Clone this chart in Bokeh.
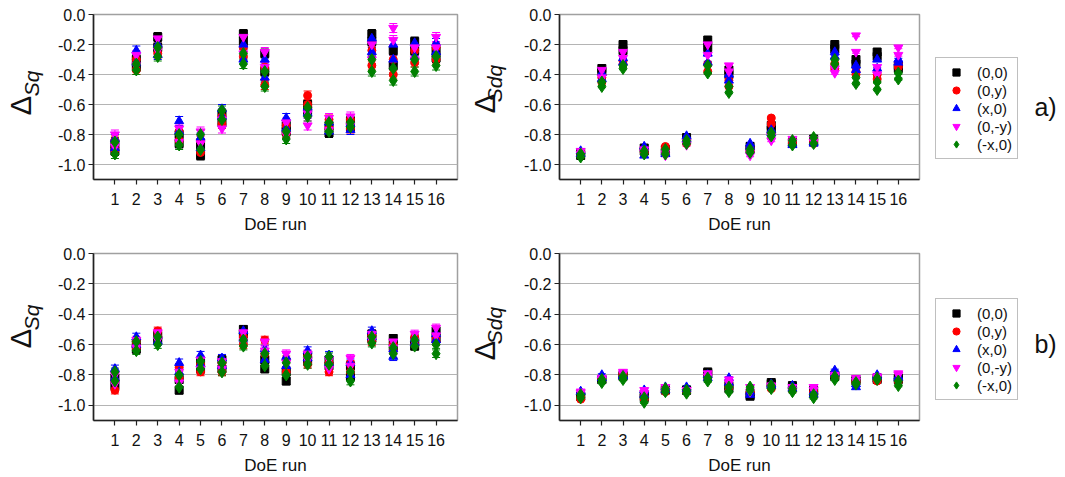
import math
from bokeh.plotting import figure
from bokeh.models import (ColumnDataSource, Range1d, FixedTicker, NumeralTickFormatter,
                          Whisker, TeeHead, Legend, LegendItem, Label)
from bokeh.layouts import column, row
from bokeh.embed import file_html
from bokeh.resources import INLINE

runs = list(range(1, 17))
series_labels = ["(0,0)", "(0,y)", "(x,0)", "(0,-y)", "(-x,0)"]
series_colors = ["#000000", "#ff0000", "#0000ff", "#ff00ff", "#008000"]
series_markers = ["square", "circle", "triangle", "inverted_triangle", "diamond"]
y_ticks = [0.0, -0.2, -0.4, -0.6, -0.8, -1.0]
x_label = "DoE run"
panel_tags = ["a)", "b)"]

# ---- a) Delta Sq : two measured values per run and series ----
sq_a_00 = [(-0.86, -0.91), (-0.30, -0.35), (-0.15, -0.22), (-0.80, -0.86), (-0.87, -0.94), (-0.66, -0.72), (-0.13, -0.18), (-0.26, -0.38),
           (-0.74, -0.78), (-0.60, -0.64), (-0.74, -0.79), (-0.71, -0.75), (-0.13, -0.18), (-0.24, -0.34), (-0.18, -0.24), (-0.24, -0.29)]
sq_a_0y = [(-0.84, -0.90), (-0.30, -0.37), (-0.22, -0.26), (-0.78, -0.84), (-0.84, -0.92), (-0.68, -0.73), (-0.22, -0.28), (-0.35, -0.47),
           (-0.74, -0.79), (-0.54, -0.60), (-0.70, -0.76), (-0.70, -0.76), (-0.24, -0.34), (-0.30, -0.40), (-0.24, -0.32), (-0.22, -0.30)]
sq_a_x0 = [(-0.83, -0.89), (-0.24, -0.32), (-0.20, -0.27), (-0.71, -0.78), (-0.82, -0.89), (-0.63, -0.68), (-0.20, -0.30), (-0.30, -0.42),
           (-0.69, -0.76), (-0.62, -0.66), (-0.72, -0.78), (-0.73, -0.77), (-0.16, -0.25), (-0.20, -0.30), (-0.19, -0.28), (-0.19, -0.25)]
sq_a_0my = [(-0.80, -0.88), (-0.27, -0.34), (-0.16, -0.24), (-0.76, -0.85), (-0.78, -0.86), (-0.70, -0.76), (-0.15, -0.26), (-0.25, -0.35),
            (-0.72, -0.80), (-0.66, -0.74), (-0.69, -0.77), (-0.68, -0.74), (-0.20, -0.30), (-0.09, -0.17), (-0.22, -0.30), (-0.15, -0.22)]
sq_a_mx0 = [(-0.85, -0.93), (-0.33, -0.37), (-0.22, -0.28), (-0.80, -0.87), (-0.80, -0.90), (-0.64, -0.70), (-0.26, -0.33), (-0.38, -0.48),
            (-0.78, -0.83), (-0.62, -0.68), (-0.72, -0.78), (-0.72, -0.75), (-0.30, -0.38), (-0.36, -0.44), (-0.30, -0.38), (-0.28, -0.34)]
err_sq_a = [0.03, 0.03, 0.03, 0.03, 0.03, 0.03, 0.03, 0.03, 0.03, 0.03, 0.03, 0.03, 0.03, 0.03, 0.03, 0.03]

# ---- a) Delta Sdq ----
sdq_a_00 = [(-0.92, -0.94), (-0.36, -0.38), (-0.20, -0.24), (-0.89, -0.91), (-0.90, -0.92), (-0.82, -0.84), (-0.17, -0.22), (-0.37, -0.40),
            (-0.88, -0.90), (-0.74, -0.77), (-0.85, -0.86), (-0.83, -0.85), (-0.20, -0.23), (-0.30, -0.33), (-0.25, -0.28), (-0.34, -0.36)]
sdq_a_0y = [(-0.92, -0.94), (-0.42, -0.45), (-0.31, -0.33), (-0.90, -0.92), (-0.88, -0.90), (-0.84, -0.86), (-0.33, -0.38), (-0.44, -0.48),
            (-0.89, -0.91), (-0.69, -0.73), (-0.84, -0.86), (-0.84, -0.86), (-0.33, -0.36), (-0.38, -0.40), (-0.40, -0.43), (-0.33, -0.35)]
sdq_a_x0 = [(-0.91, -0.93), (-0.39, -0.43), (-0.29, -0.32), (-0.88, -0.94), (-0.92, -0.93), (-0.81, -0.83), (-0.26, -0.32), (-0.40, -0.44),
            (-0.86, -0.88), (-0.77, -0.79), (-0.86, -0.87), (-0.85, -0.86), (-0.25, -0.28), (-0.34, -0.37), (-0.30, -0.36), (-0.30, -0.32)]
sdq_a_0my = [(-0.91, -0.93), (-0.37, -0.42), (-0.25, -0.29), (-0.90, -0.92), (-0.92, -0.94), (-0.85, -0.87), (-0.20, -0.27), (-0.34, -0.38),
             (-0.92, -0.94), (-0.81, -0.84), (-0.83, -0.85), (-0.83, -0.85), (-0.36, -0.39), (-0.14, -0.25), (-0.35, -0.40), (-0.22, -0.27)]
sdq_a_mx0 = [(-0.93, -0.95), (-0.45, -0.48), (-0.34, -0.36), (-0.91, -0.93), (-0.90, -0.93), (-0.84, -0.86), (-0.34, -0.39), (-0.48, -0.52),
             (-0.90, -0.92), (-0.79, -0.81), (-0.84, -0.87), (-0.82, -0.86), (-0.30, -0.33), (-0.42, -0.46), (-0.45, -0.50), (-0.39, -0.43)]
err_sdq_a = [0.008, 0.008, 0.008, 0.008, 0.008, 0.008, 0.008, 0.008, 0.008, 0.008, 0.008, 0.008, 0.008, 0.008, 0.008, 0.008]

# ---- b) Delta Sq ----
sq_b_00 = [(-0.82, -0.87), (-0.59, -0.63), (-0.54, -0.57), (-0.83, -0.90), (-0.72, -0.76), (-0.70, -0.76), (-0.50, -0.53), (-0.70, -0.76),
           (-0.78, -0.84), (-0.67, -0.71), (-0.70, -0.74), (-0.74, -0.81), (-0.53, -0.56), (-0.56, -0.61), (-0.58, -0.61), (-0.51, -0.56)]
sq_b_0y = [(-0.84, -0.90), (-0.58, -0.62), (-0.51, -0.55), (-0.75, -0.82), (-0.73, -0.78), (-0.72, -0.78), (-0.55, -0.60), (-0.57, -0.66),
           (-0.70, -0.78), (-0.68, -0.73), (-0.72, -0.78), (-0.73, -0.78), (-0.54, -0.58), (-0.60, -0.64), (-0.55, -0.60), (-0.55, -0.58)]
sq_b_x0 = [(-0.76, -0.82), (-0.55, -0.60), (-0.54, -0.58), (-0.72, -0.78), (-0.67, -0.73), (-0.69, -0.74), (-0.51, -0.56), (-0.63, -0.70),
           (-0.68, -0.74), (-0.64, -0.69), (-0.67, -0.72), (-0.72, -0.80), (-0.51, -0.55), (-0.63, -0.68), (-0.56, -0.59), (-0.53, -0.57)]
sq_b_0my = [(-0.80, -0.86), (-0.57, -0.62), (-0.52, -0.57), (-0.78, -0.85), (-0.70, -0.76), (-0.71, -0.76), (-0.52, -0.58), (-0.58, -0.64),
            (-0.66, -0.72), (-0.66, -0.70), (-0.70, -0.76), (-0.69, -0.74), (-0.53, -0.57), (-0.58, -0.62), (-0.53, -0.58), (-0.49, -0.54)]
sq_b_mx0 = [(-0.78, -0.84), (-0.58, -0.64), (-0.55, -0.60), (-0.80, -0.88), (-0.71, -0.76), (-0.72, -0.78), (-0.57, -0.61), (-0.66, -0.74),
            (-0.72, -0.80), (-0.68, -0.73), (-0.68, -0.73), (-0.78, -0.84), (-0.55, -0.59), (-0.62, -0.66), (-0.57, -0.61), (-0.60, -0.66)]
err_sq_b = [0.025, 0.025, 0.025, 0.025, 0.025, 0.025, 0.025, 0.025, 0.025, 0.025, 0.025, 0.025, 0.025, 0.025, 0.025, 0.025]

# ---- b) Delta Sdq ----
sdq_b_00 = [(-0.94, -0.94), (-0.83, -0.83), (-0.80, -0.81), (-0.93, -0.95), (-0.89, -0.90), (-0.90, -0.90), (-0.78, -0.79), (-0.87, -0.89),
            (-0.93, -0.94), (-0.85, -0.86), (-0.87, -0.88), (-0.90, -0.92), (-0.80, -0.81), (-0.83, -0.84), (-0.82, -0.83), (-0.82, -0.83)]
sdq_b_0y = [(-0.95, -0.96), (-0.82, -0.82), (-0.79, -0.80), (-0.94, -0.96), (-0.89, -0.91), (-0.90, -0.91), (-0.81, -0.82), (-0.86, -0.88),
            (-0.91, -0.92), (-0.87, -0.89), (-0.89, -0.90), (-0.91, -0.92), (-0.80, -0.81), (-0.84, -0.85), (-0.83, -0.84), (-0.83, -0.84)]
sdq_b_x0 = [(-0.91, -0.91), (-0.80, -0.82), (-0.80, -0.81), (-0.90, -0.93), (-0.88, -0.90), (-0.88, -0.89), (-0.80, -0.82), (-0.82, -0.85),
            (-0.91, -0.93), (-0.86, -0.87), (-0.87, -0.89), (-0.91, -0.93), (-0.77, -0.79), (-0.86, -0.88), (-0.80, -0.81), (-0.81, -0.82)]
sdq_b_0my = [(-0.91, -0.92), (-0.82, -0.83), (-0.78, -0.79), (-0.90, -0.92), (-0.88, -0.90), (-0.90, -0.90), (-0.79, -0.81), (-0.83, -0.85),
             (-0.88, -0.91), (-0.87, -0.88), (-0.88, -0.90), (-0.88, -0.90), (-0.80, -0.81), (-0.82, -0.84), (-0.81, -0.82), (-0.79, -0.80)]
sdq_b_mx0 = [(-0.93, -0.95), (-0.83, -0.85), (-0.81, -0.83), (-0.95, -0.98), (-0.89, -0.91), (-0.90, -0.92), (-0.82, -0.84), (-0.88, -0.91),
             (-0.88, -0.90), (-0.87, -0.89), (-0.89, -0.91), (-0.93, -0.95), (-0.81, -0.83), (-0.85, -0.86), (-0.82, -0.83), (-0.84, -0.87)]
err_sdq_b = [0.008, 0.008, 0.008, 0.008, 0.008, 0.008, 0.008, 0.008, 0.008, 0.008, 0.008, 0.008, 0.008, 0.008, 0.008, 0.008]

FONT = "Liberation Sans"
TXT = "#111111"
marker_sizes = [8, 8, 9, 9, 12]


def blank_fig(width, height):
    f = figure(width=width, height=height, x_range=Range1d(0, 1), y_range=Range1d(0, 1),
               x_axis_type=None, y_axis_type=None, output_backend="svg", toolbar_location=None,
               min_border=0)
    f.outline_line_color = None
    f.xgrid.visible = False
    f.ygrid.visible = False
    f.background_fill_color = "white"
    f.border_fill_color = "white"
    return f


def ylabel_fig(width, height, sub, dx, dy, sx, sy):
    # frame of this helper figure is aligned with the neighbouring panel's frame
    f = blank_fig(width, height)
    f.add_layout(Label(x=dx, y=dy, x_units="screen", y_units="screen", text="Δ",
                       angle=math.pi / 2, text_align="center", text_baseline="alphabetic",
                       text_font=FONT, text_font_size="29px", text_color=TXT))
    f.add_layout(Label(x=sx, y=sy, x_units="screen", y_units="screen", text=sub,
                       angle=math.pi / 2, text_align="center", text_baseline="alphabetic",
                       text_font=FONT, text_font_size="21px", text_font_style="italic",
                       text_color=TXT))
    return f


def legend_fig(width, height, sources, tag, ty):
    # the series sources are reused; their (negative) values lie outside this
    # helper figure's 0..1 range, so only the legend glyphs are shown
    f = blank_fig(width, height)
    items = []
    for src, lab, col, mk, ms in zip(sources, series_labels, series_colors, series_markers, marker_sizes):
        rr = f.scatter("x", "y", source=src, marker=mk, size=ms, color=col)
        items.append(LegendItem(label=lab, renderers=[rr]))
    leg = Legend(items=items, location=(6, 20), orientation="vertical")
    leg.border_line_color = "#808080"
    leg.border_line_width = 1
    leg.background_fill_color = "white"
    leg.background_fill_alpha = 1.0
    leg.label_text_font = FONT
    leg.label_text_font_size = "15px"
    leg.label_text_color = TXT
    leg.glyph_width = 30
    leg.glyph_height = 18
    leg.label_height = 18
    leg.label_standoff = 6
    leg.spacing = 0
    leg.padding = 5
    leg.margin = 0
    f.add_layout(leg)
    f.add_layout(Label(x=116, y=ty, x_units="screen", y_units="screen", text=tag,
                       text_align="center", text_baseline="middle",
                       text_font=FONT, text_font_size="25px", text_color=TXT))
    return f


def make_panel(series, err, width, height, left, right, top, bottom):
    p = figure(width=width, height=height, x_range=Range1d(0, 17), y_range=Range1d(-1.1, 0.0),
               output_backend="svg", toolbar_location=None,
               min_border_left=left, min_border_right=right,
               min_border_top=top, min_border_bottom=bottom)
    p.background_fill_color = "white"
    p.border_fill_color = "white"
    p.outline_line_color = "#a0a0a0"
    p.outline_line_width = 1.5
    p.xgrid.visible = False
    p.ygrid.grid_line_color = "#b4b4b4"
    p.ygrid.grid_line_width = 1.2

    p.xaxis.ticker = FixedTicker(ticks=runs)
    p.yaxis.ticker = FixedTicker(ticks=y_ticks)
    p.yaxis.formatter = NumeralTickFormatter(format="0.0")
    for ax in (p.xaxis[0], p.yaxis[0]):
        ax.axis_line_color = "#222222"
        ax.axis_line_width = 1.6
        ax.major_tick_line_color = "#222222"
        ax.major_tick_line_width = 1.2
        ax.major_tick_in = 0
        ax.major_tick_out = 5
        ax.minor_tick_in = 0
        ax.minor_tick_out = 0
        ax.major_label_text_font = FONT
        ax.major_label_text_font_size = "16px"
        ax.major_label_text_color = TXT
    p.yaxis.major_label_standoff = 3
    p.xaxis.major_label_standoff = 8
    p.xaxis.axis_label = x_label
    p.xaxis.axis_label_text_font = FONT
    p.xaxis.axis_label_text_font_size = "17px"
    p.xaxis.axis_label_text_font_style = "normal"
    p.xaxis.axis_label_text_color = TXT
    p.xaxis.axis_label_standoff = 7

    sources = []
    for vals, col, mk, ms in zip(series, series_colors, series_markers, marker_sizes):
        xs, ys, up, lo = [], [], [], []
        for r, pair, e in zip(runs, vals, err):
            for v in pair:
                xs.append(r)
                ys.append(v)
                up.append(v + e)
                lo.append(v - e)
        src = ColumnDataSource(dict(x=xs, y=ys, upper=up, lower=lo))
        sources.append(src)
        w = Whisker(source=src, base="x", upper="upper", lower="lower",
                    line_color=col, line_width=1,
                    upper_head=TeeHead(size=8, line_color=col, line_width=1),
                    lower_head=TeeHead(size=8, line_color=col, line_width=1))
        p.add_layout(w)
        p.scatter("x", "y", source=src, marker=mk, size=ms, color=col)
    return p, sources


H1, H2 = 236, 241
# top row
l1 = ylabel_fig(50, H1, "Sq", 20, 74, 31, 96)
p1, _ = make_panel([sq_a_00, sq_a_0y, sq_a_x0, sq_a_0my, sq_a_mx0], err_sq_a,
                   417, H1, 43, 10, 14, 54)
l2 = ylabel_fig(53, H1, "Sdq", 17, 76, 27, 96)
p2, s2 = make_panel([sdq_a_00, sdq_a_0y, sdq_a_x0, sdq_a_0my, sdq_a_mx0], err_sdq_a,
                    409, H1, 37, 10, 14, 54)
g1 = legend_fig(136, H1, s2, panel_tags[0], 73)
# bottom row
l3 = ylabel_fig(50, H2, "Sq", 20, 82, 31, 103)
p3, _ = make_panel([sq_b_00, sq_b_0y, sq_b_x0, sq_b_0my, sq_b_mx0], err_sq_b,
                   417, H2, 43, 10, 17, 55)
l4 = ylabel_fig(53, H2, "Sdq", 17, 70, 27, 95)
p4, s4 = make_panel([sdq_b_00, sdq_b_0y, sdq_b_x0, sdq_b_0my, sdq_b_mx0], err_sdq_b,
                    409, H2, 37, 10, 17, 55)
g2 = legend_fig(136, H2, s4, panel_tags[1], 77)

layout = column(row(l1, p1, l2, p2, g1), row(l3, p3, l4, p4, g2))
open("out.html", "w").write(file_html(layout, INLINE))
